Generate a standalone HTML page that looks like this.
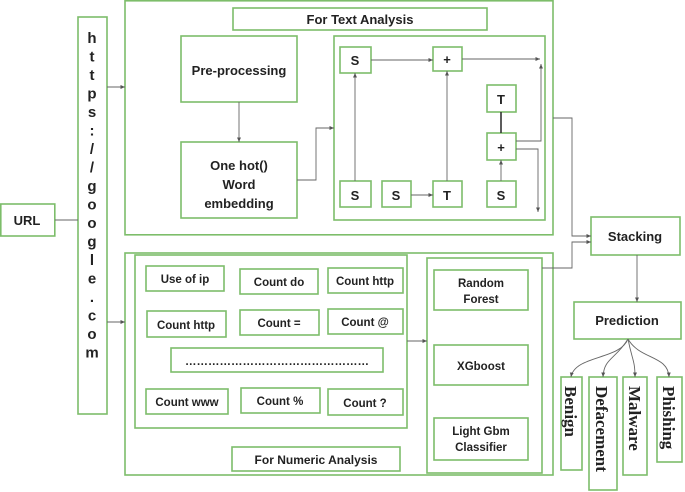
<!DOCTYPE html><html><head><style>body{margin:0;background:#fff}svg{display:block}text{font-family:"Liberation Sans",sans-serif;font-weight:bold;fill:#222}</style></head><body>
<svg width="685" height="492" viewBox="0 0 685 492">
<defs><marker id="a" markerWidth="6" markerHeight="6" refX="5" refY="3" orient="auto"><path d="M0,0.8 L5,3 L0,5.2z" fill="#555"/></marker></defs>
<g fill="none" stroke="#7dbd6a" stroke-width="1.6">
<rect x="0.8" y="204" width="54" height="32"/>
<rect x="78" y="17" width="29" height="397"/>
<rect x="125" y="0.8" width="428" height="234"/>
<rect x="233" y="8" width="254" height="22"/>
<rect x="181" y="36" width="116" height="66"/>
<rect x="181" y="142" width="116" height="76"/>
<rect x="334" y="36" width="211" height="184"/>
<rect x="340" y="47" width="31" height="26"/>
<rect x="433" y="47" width="29" height="24"/>
<rect x="487" y="85" width="29" height="27"/>
<rect x="487" y="133" width="29" height="27"/>
<rect x="340" y="181" width="31" height="26"/>
<rect x="382" y="181" width="29" height="26"/>
<rect x="433" y="181" width="29" height="26"/>
<rect x="487" y="181" width="29" height="26"/>
<rect x="125" y="253" width="428" height="222"/>
<rect x="135" y="255" width="272" height="173"/>
<rect x="427" y="258" width="115" height="215"/>
<rect x="434" y="270" width="94" height="40"/>
<rect x="434" y="345" width="94" height="40"/>
<rect x="434" y="418" width="94" height="42"/>
<rect x="232" y="447" width="168" height="24"/>
<rect x="146" y="266" width="78" height="25"/>
<rect x="240" y="269" width="78" height="25"/>
<rect x="328" y="268" width="75" height="25"/>
<rect x="147" y="311" width="79" height="26"/>
<rect x="240" y="310" width="79" height="25"/>
<rect x="328" y="309" width="75" height="25"/>
<rect x="171" y="348" width="212" height="24"/>
<rect x="146" y="389" width="82" height="25"/>
<rect x="241" y="388" width="79" height="25"/>
<rect x="328" y="389" width="75" height="26"/>
<rect x="591" y="217" width="89" height="38"/>
<rect x="574" y="302" width="107" height="37"/>
<rect x="561" y="377" width="21" height="93"/>
<rect x="589" y="377" width="28" height="113"/>
<rect x="623" y="377" width="24" height="98"/>
<rect x="657" y="377" width="25" height="85"/>
</g>
<g fill="none" stroke="#666" stroke-width="0.9">
<path d="M55,220H78"/>
<path d="M107,87H125" marker-end="url(#a)"/>
<path d="M107,322H125" marker-end="url(#a)"/>
<path d="M239,102V142" marker-end="url(#a)"/>
<path d="M297,180H316V128H334" marker-end="url(#a)"/>
<path d="M371,60H433" marker-end="url(#a)"/>
<path d="M462,59H540" marker-end="url(#a)"/>
<path d="M355,181V73" marker-end="url(#a)"/>
<path d="M411,195H433" marker-end="url(#a)"/>
<path d="M447,181V71" marker-end="url(#a)"/>
<path d="M501,181V160" marker-end="url(#a)"/>
<path d="M501,112V133" stroke="#333" stroke-width="1.6"/>
<path d="M516,141H541V64" marker-end="url(#a)"/>
<path d="M516,149H538V212" marker-end="url(#a)"/>
<path d="M553,118H572V236H591" marker-end="url(#a)"/>
<path d="M542,268H572V242H591" marker-end="url(#a)"/>
<path d="M407,341H427" marker-end="url(#a)"/>
<path d="M637,255V302" marker-end="url(#a)"/>
<path d="M628,339C620,360 575,355 571,377" marker-end="url(#a)"/>
<path d="M628,339C615,360 604,358 603,377" marker-end="url(#a)"/>
<path d="M628,339C632,360 635,360 635,377" marker-end="url(#a)"/>
<path d="M628,339C640,360 668,355 669,377" marker-end="url(#a)"/>
</g>
<g font-size="13" text-anchor="middle">
<text x="27" y="225" font-weight="normal">URL</text>
<text x="360" y="24">For Text Analysis</text>
<text x="239" y="75">Pre-processing</text>
<text x="239" y="170">One hot()</text><text x="239" y="189">Word</text><text x="239" y="208">embedding</text>
<text x="355" y="65">S</text><text x="447" y="64">+</text><text x="501" y="104">T</text><text x="501" y="152">+</text>
<text x="355" y="200">S</text><text x="396" y="200">S</text><text x="447" y="200">T</text><text x="501" y="200">S</text>
<text x="635" y="241">Stacking</text>
<text x="627" y="325">Prediction</text>
<text x="316" y="464" font-size="12">For Numeric Analysis</text>
</g>
<g font-size="11.5" text-anchor="middle">
<text x="185" y="283">Use of ip</text><text x="279" y="286">Count do</text><text x="365" y="285">Count http</text>
<text x="186" y="329">Count http</text><text x="279" y="327">Count =</text><text x="365" y="326">Count @</text>
<text x="277" y="365">…………………………………………</text>
<text x="187" y="406">Count www</text><text x="280" y="405">Count %</text><text x="365" y="407">Count ?</text>
<text x="481" y="287">Random</text><text x="481" y="303">Forest</text>
<text x="481" y="370">XGboost</text>
<text x="481" y="435">Light Gbm</text><text x="481" y="451">Classifier</text>
</g>
<g font-size="15" text-anchor="middle">
<text x="92" y="43">h</text><text x="92" y="61.5">t</text><text x="92" y="80">t</text><text x="92" y="98.5">p</text><text x="92" y="117">s</text><text x="92" y="135.5">:</text><text x="92" y="154">/</text><text x="92" y="172.5">/</text><text x="92" y="191">g</text><text x="92" y="209.5">o</text><text x="92" y="228">o</text><text x="92" y="246.5">g</text><text x="92" y="265">l</text><text x="92" y="283.5">e</text><text x="92" y="302">.</text><text x="92" y="320.5">c</text><text x="92" y="339">o</text><text x="92" y="357.5">m</text>
</g>
<g font-size="17">
<text transform="translate(565,386) rotate(90)" style="font-family:'Liberation Serif',serif">Benign</text>
<text transform="translate(596,386) rotate(90)" style="font-family:'Liberation Serif',serif">Defacement</text>
<text transform="translate(629,386) rotate(90)" style="font-family:'Liberation Serif',serif">Malware</text>
<text transform="translate(663,386) rotate(90)" style="font-family:'Liberation Serif',serif">Phishing</text>
</g>
</svg></body></html>
